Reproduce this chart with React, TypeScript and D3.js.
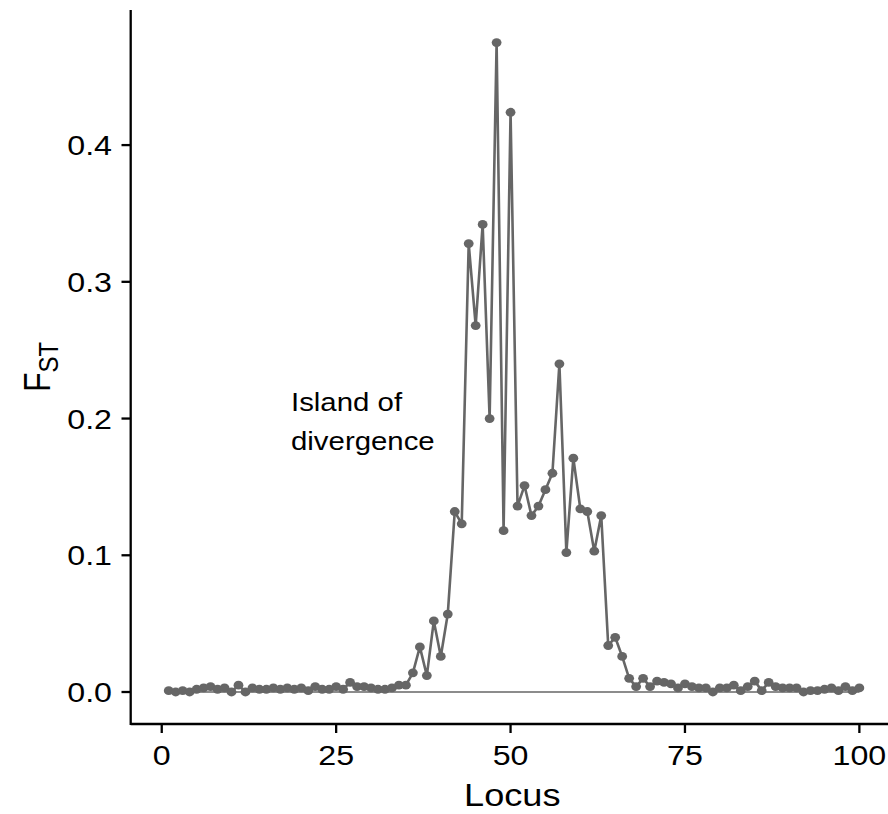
import React from "react"
import * as d3 from "d3"

// per-locus FST, loci 1..100
const loci: number[] = d3.range(1, 101)
const fst: number[] = [
  0.001, 0.000, 0.001, 0.000, 0.002, 0.003, 0.004, 0.002, 0.003, 0.000,
  0.005, 0.000, 0.003, 0.002, 0.002, 0.003, 0.002, 0.003, 0.002, 0.003,
  0.001, 0.004, 0.002, 0.002, 0.004, 0.002, 0.007, 0.004, 0.004, 0.003,
  0.002, 0.002, 0.003, 0.005, 0.005, 0.014, 0.033, 0.012, 0.052, 0.026,
  0.057, 0.132, 0.123, 0.328, 0.268, 0.342, 0.200, 0.475, 0.118, 0.424,
  0.136, 0.151, 0.129, 0.136, 0.148, 0.160, 0.240, 0.102, 0.171, 0.134,
  0.132, 0.103, 0.129, 0.034, 0.040, 0.026, 0.010, 0.004, 0.010, 0.004,
  0.008, 0.007, 0.006, 0.003, 0.006, 0.004, 0.003, 0.003, 0.000, 0.003,
  0.003, 0.005, 0.001, 0.004, 0.008, 0.001, 0.007, 0.004, 0.003, 0.003,
  0.003, 0.000, 0.001, 0.001, 0.002, 0.003, 0.001, 0.004, 0.001, 0.003,
]
const xTicks: number[] = [0, 25, 50, 75, 100]
const yTicks: number[] = [0, 0.1, 0.2, 0.3, 0.4]
const noteLines: string[] = ["Island of", "divergence"]

const W = 888
const H = 814
const SX = 1.13 // the reference is stretched sideways a little

export default function App() {
  const x = d3.scaleLinear().domain([-4.45, 104.95]).range([130.7, 893.9])
  const y = d3.scaleLinear().domain([-0.0234, 0.4988]).range([724, 10])

  const line = d3.line<number>()
    .x((_, i) => x(loci[i]))
    .y(d => y(d))

  const font = "Liberation Sans, Arial, Helvetica, sans-serif"
  const grey = "#666666"

  return (
    <svg width={W} height={H} style={{ position: "absolute", left: 0, top: 0, background: "#fff" }}
      fontFamily={font}>
      {/* baseline at FST = 0 */}
      <line x1={x(1)} x2={x(100)} y1={y(0)} y2={y(0)} stroke="#8c8c8c" strokeWidth={2.2} />

      <path d={line(fst) ?? ""} fill="none" stroke={grey} strokeWidth={2.6} strokeLinejoin="round" />
      {fst.map((v, i) => (
        <ellipse key={i} cx={x(loci[i])} cy={y(v)} rx={4.9} ry={4.4} fill={grey} />
      ))}

      {/* axes */}
      <line x1={130.7} x2={W} y1={724} y2={724} stroke="#000" strokeWidth={2.3} />
      <line x1={130.7} x2={130.7} y1={10} y2={725.1} stroke="#000" strokeWidth={2.3} />

      {xTicks.map(t => (
        <g key={t}>
          <line x1={x(t)} x2={x(t)} y1={724} y2={733} stroke="#000" strokeWidth={2.3} />
          <text transform={`translate(${x(t)},765) scale(${SX},1)`} textAnchor="middle" fontSize={28.5}>
            {t}
          </text>
        </g>
      ))}
      {yTicks.map(t => (
        <g key={t}>
          <line x1={121.5} x2={130.7} y1={y(t)} y2={y(t)} stroke="#000" strokeWidth={2.3} />
          <text transform={`translate(112,${y(t) + 10}) scale(${SX},1)`} textAnchor="end" fontSize={28.5}>
            {d3.format(".1f")(t)}
          </text>
        </g>
      ))}

      <text transform={`translate(512.3,806) scale(${SX},1)`} textAnchor="middle" fontSize={32}>Locus</text>
      <text transform={`translate(50,367) scale(${SX},1) rotate(-90)`} textAnchor="middle" fontSize={32}>
        F<tspan fontSize={24} dy={7}>ST</tspan>
      </text>

      {noteLines.map((s, i) => (
        <text key={s} transform={`translate(291,${411 + i * 39}) scale(${SX},1)`} fontSize={26}>{s}</text>
      ))}
    </svg>
  )
}
